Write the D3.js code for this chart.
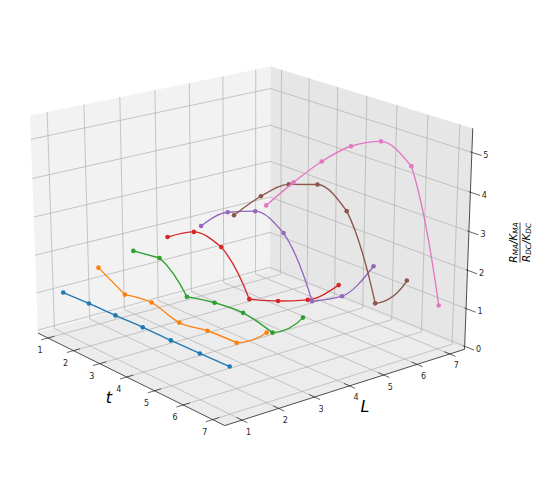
<!DOCTYPE html>
<html>
<head>
<meta charset="utf-8">
<script src="https://cdn.jsdelivr.net/npm/d3@7"></script>
<style>
body { margin: 0; background: #fff; }
svg { display: block; }
text { font-family: "DejaVu Sans"; fill: #262626; }
</style>
</head>
<body>
<svg width="540" height="479"></svg>
<script>
var ticksT = [1, 2, 3, 4, 5, 6, 7];
var ticksL = [1, 2, 3, 4, 5, 6, 7];
var ticksZ = [0, 1, 2, 3, 4, 5];
var colors = ["#1f77b4", "#ff7f0e", "#2ca02c", "#d62728", "#9467bd", "#8c564b", "#e377c2"];

// ratio per L (one list for each curve), read at t = 1..7
var ratioL1 = [1.02, 1.05, 1.06, 1.08, 1.08, 1.09, 1.11];
var ratioL2 = [1.44, 1.03, 1.14, 0.94, 1.06, 1.09, 1.68];
var ratioL3 = [1.65, 1.76, 1.04, 1.20, 1.26, 1.08, 1.79];
var ratioL4 = [1.79, 2.22, 2.11, 1.04, 1.31, 1.66, 2.35];
var ratioL5 = [1.86, 2.52, 2.83, 2.54, 1.05, 1.50, 2.58];
var ratioL6 = [1.93, 2.73, 3.32, 3.59, 3.17, 1.06, 1.97];
var ratioL7 = [1.98, 2.89, 3.72, 4.38, 4.76, 4.38, 1.07];
var series = [ratioL1, ratioL2, ratioL3, ratioL4, ratioL5, ratioL6, ratioL7];

// axis box limits
var tMin = 0.6, tMax = 7.4, lMin = 0.54, lMax = 7.46, zMin = -0.08, zMax = 5.6;

// camera, same idea as mplot3d
var elev = 20 * Math.PI / 180, azim = -39 * Math.PI / 180, dist = 7.5, zSpan = 0.81;
var tNorm = d3.scaleLinear().domain([tMin, tMax]).range([-0.5, 0.5]);
var lNorm = d3.scaleLinear().domain([lMin, lMax]).range([-0.5, 0.5]);
var zNorm = d3.scaleLinear().domain([0, 5.65]).range([-zSpan / 2, zSpan / 2]);
var xPix = d3.scaleLinear().domain([0, 1]).range([249.3, 249.3 + 2318]);
var yPix = d3.scaleLinear().domain([0, 1]).range([231, 231 - 2150]);
var ca = Math.cos(azim), sa = Math.sin(azim), ce = Math.cos(elev), se = Math.sin(elev);

function project(t, l, z) {
    var x = tNorm(t), y = lNorm(l), h = zNorm(z);
    var u = -sa * x + ca * y;
    var v = -ca * se * x - sa * se * y + ce * h;
    var d = dist - (ca * ce * x + sa * ce * y + se * h);
    return [xPix(u / d), yPix(v / d)];
}

var svg = d3.select("svg");
var straight = d3.line();

function pane(corners, fill) {
    svg.append("path").attr("d", straight(corners) + "Z").attr("fill", fill);
}

function segment(a, b, color, width) {
    svg.append("path")
        .attr("d", straight([a, b]))
        .attr("fill", "none")
        .attr("stroke", color)
        .attr("stroke-width", width);
}

// walls and floor
pane([project(tMin, lMin, zMin), project(tMin, lMax, zMin), project(tMin, lMax, zMax), project(tMin, lMin, zMax)], "#f2f2f2");
pane([project(tMin, lMax, zMin), project(tMax, lMax, zMin), project(tMax, lMax, zMax), project(tMin, lMax, zMax)], "#e6e6e6");
pane([project(tMin, lMin, zMin), project(tMax, lMin, zMin), project(tMax, lMax, zMin), project(tMin, lMax, zMin)], "#ececec");

// grid
ticksT.forEach(function(t) {
    segment(project(t, lMin, zMin), project(t, lMax, zMin), "#b0b0b0", 0.7);
    segment(project(t, lMax, zMin), project(t, lMax, zMax), "#b0b0b0", 0.7);
});
ticksL.forEach(function(l) {
    segment(project(tMax, l, zMin), project(tMin, l, zMin), "#b0b0b0", 0.7);
    segment(project(tMin, l, zMin), project(tMin, l, zMax), "#b0b0b0", 0.7);
});
ticksZ.forEach(function(z) {
    segment(project(tMin, lMin, z), project(tMin, lMax, z), "#b0b0b0", 0.7);
    segment(project(tMin, lMax, z), project(tMax, lMax, z), "#b0b0b0", 0.7);
});

// axis lines
segment(project(tMin, lMin, zMin), project(tMax, lMin, zMin), "#222", 0.8);
segment(project(tMax, lMin, zMin), project(tMax, lMax, zMin), "#222", 0.8);
segment(project(tMax, lMax, zMin), project(tMax, lMax, zMax), "#222", 0.8);

function tickLabel(p, dx, dy, label) {
    svg.append("text")
        .attr("x", p[0] + dx)
        .attr("y", p[1] + dy)
        .attr("text-anchor", "middle")
        .attr("dominant-baseline", "central")
        .attr("font-size", 8)
        .text(label);
}

ticksT.forEach(function(t) {
    segment(project(t, lMin + 0.18, zMin), project(t, lMin - 0.18, zMin), "#222", 0.7);
    tickLabel(project(t, lMin, zMin), -8, 12.5, t);
});
ticksL.forEach(function(l) {
    segment(project(tMax - 0.18, l, zMin), project(tMax + 0.18, l, zMin), "#222", 0.7);
    tickLabel(project(tMax, l, zMin), 6.5, 12, l);
});
ticksZ.forEach(function(z) {
    segment(project(tMax - 0.05, lMax, z), project(tMax + 0.3, lMax, z), "#222", 0.7);
    tickLabel(project(tMax, lMax, z), 14, 3, z);
});

// the curves have kinks at sharp turns, so each smooth run gets its own path
function splitRuns(pts) {
    var runs = [], start = 0;
    for (var j = 1; j < pts.length - 1; j++) {
        var a = (pts[j][1] - pts[j - 1][1]) / (pts[j][0] - pts[j - 1][0]);
        var b = (pts[j + 1][1] - pts[j][1]) / (pts[j + 1][0] - pts[j][0]);
        var sharp = Math.abs(b - a) > 0.5 && Math.max(Math.abs(a), Math.abs(b)) > 1;
        var valley = a > 0.2 && b < -0.15;
        if (sharp || valley) {
            runs.push(pts.slice(start, j + 1));
            start = j;
        }
    }
    runs.push(pts.slice(start));
    return runs;
}

var curve = d3.line().curve(d3.curveMonotoneX);

function runPath(run, isFirst) {
    if (run.length > 2 || isFirst) return curve(run);
    // two points: starts shallow, ends steep
    var p = d3.path();
    var dx = run[1][0] - run[0][0], dy = run[1][1] - run[0][1];
    var bendX = dy < 0 ? 0.6 : 0.5, bendY = dy < 0 ? 0.1 : 0.3;
    p.moveTo(run[0][0], run[0][1]);
    p.quadraticCurveTo(run[0][0] + bendX * dx, run[0][1] + bendY * dy, run[1][0], run[1][1]);
    return p.toString();
}

series.forEach(function(values, i) {
    var pts = values.map(function(v, j) { return project(ticksT[j], ticksL[i], v); });
    splitRuns(pts).forEach(function(run, k) {
        svg.append("path")
            .attr("d", runPath(run, k === 0))
            .attr("fill", "none")
            .attr("stroke", colors[i])
            .attr("stroke-width", 1.35);
    });
    svg.selectAll(null)
        .data(pts)
        .enter().append("circle")
        .attr("cx", function(d) { return d[0]; })
        .attr("cy", function(d) { return d[1]; })
        .attr("r", 2.3)
        .attr("fill", colors[i]);
});

// axis titles
function axisTitle(x, y, label) {
    svg.append("text")
        .attr("x", x).attr("y", y)
        .attr("text-anchor", "middle")
        .attr("dominant-baseline", "central")
        .attr("font-size", 16)
        .attr("font-style", "italic")
        .style("fill", "#000")
        .text(label);
}
axisTitle(109, 397, "t");
axisTitle(365, 406, "L");

var zTitle = svg.append("g").attr("transform", "translate(520,242.5) rotate(-90)");
function fracRow(y, a, aSub, b, bSub) {
    var row = zTitle.append("text")
        .attr("x", 0).attr("y", y)
        .attr("text-anchor", "middle")
        .attr("font-size", 10.5)
        .attr("font-style", "italic")
        .style("fill", "#000");
    row.append("tspan").text(a);
    row.append("tspan").attr("font-size", 7.3).attr("dy", 1.6).text(aSub);
    row.append("tspan").attr("dy", -1.6).text("/" + b);
    row.append("tspan").attr("font-size", 7.3).attr("dy", 1.6).text(bSub);
}
fracRow(-3.5, "R", "MA", "K", "MA");
fracRow(9.5, "R", "DC", "K", "DC");
zTitle.append("line")
    .attr("x1", -20).attr("x2", 20)
    .attr("y1", 0).attr("y2", 0)
    .attr("stroke", "#000")
    .attr("stroke-width", 0.7);
</script>
</body>
</html>
